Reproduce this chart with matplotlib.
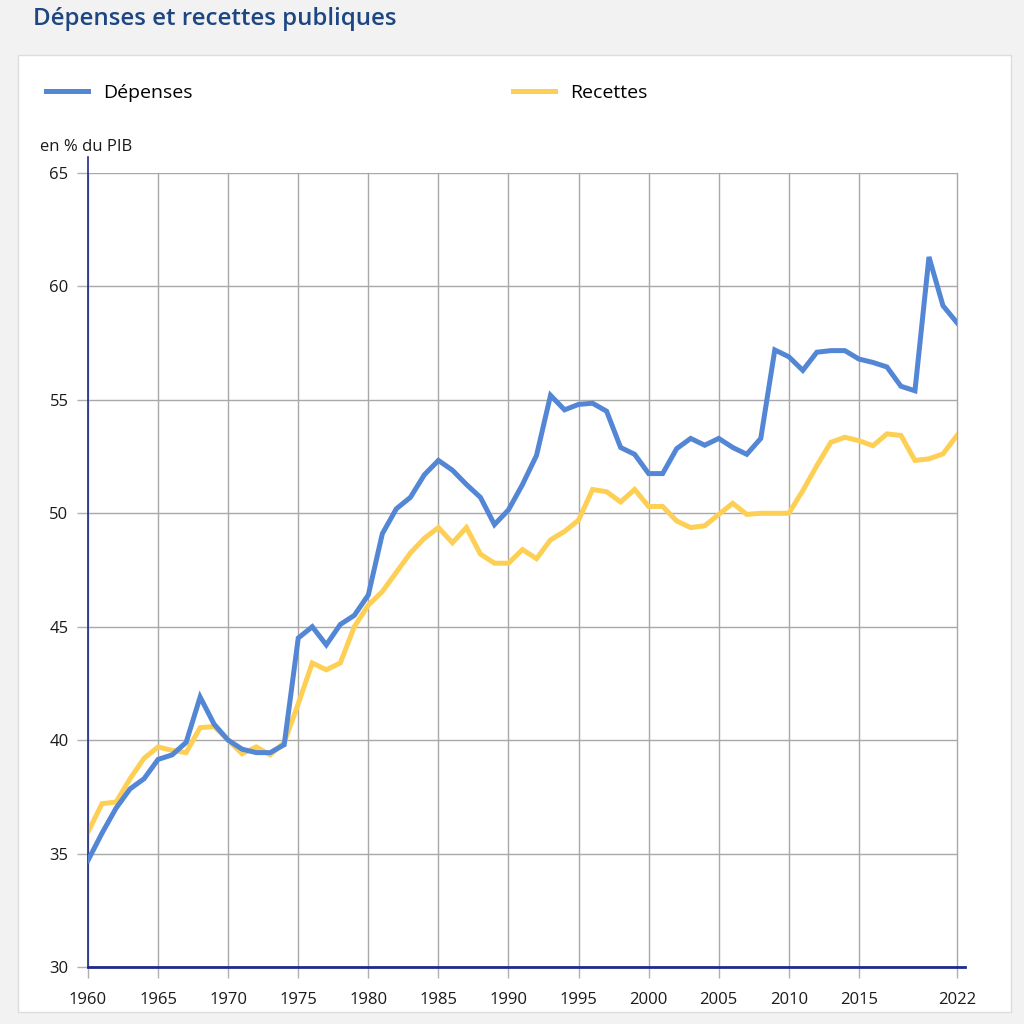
import matplotlib
matplotlib.use("Agg")
from matplotlib import pyplot as plt
from matplotlib.patches import Rectangle

plt.rcParams['font.family'] = ['Open Sans', 'DejaVu Sans']

annees = list(range(1960, 2023))
depenses = [34.7, 35.9, 37.0, 37.85, 38.3, 39.15, 39.35, 39.9, 41.9, 40.7,
            40.0, 39.6, 39.45, 39.45, 39.8, 44.5, 45.0, 44.2, 45.1, 45.5,
            46.4, 49.1, 50.2, 50.7, 51.7, 52.33, 51.9, 51.27, 50.7, 49.5,
            50.15, 51.27, 52.55, 55.2, 54.56, 54.8, 54.85, 54.5, 52.9, 52.6,
            51.75, 51.75, 52.85, 53.3, 53.0, 53.3, 52.9, 52.6, 53.3, 57.2,
            56.9, 56.3, 57.1, 57.17, 57.17, 56.8, 56.65, 56.45, 55.6, 55.4,
            61.3, 59.15, 58.4]
recettes = [35.95, 37.2, 37.27, 38.3, 39.2, 39.7, 39.55, 39.45, 40.55, 40.6,
            40.0, 39.4, 39.7, 39.35, 39.9, 41.6, 43.4, 43.1, 43.4, 45.0,
            45.95, 46.55, 47.4, 48.25, 48.9, 49.37, 48.7, 49.37, 48.2, 47.8,
            47.8, 48.4, 48.0, 48.83, 49.2, 49.7, 51.05, 50.95, 50.5, 51.05,
            50.3, 50.3, 49.66, 49.37, 49.45, 49.95, 50.44, 49.95, 50.0, 50.0,
            50.0, 51.0, 52.1, 53.13, 53.35, 53.2, 52.98, 53.5, 53.43, 52.33,
            52.4, 52.62, 53.43]
xticks = [1960, 1965, 1970, 1975, 1980, 1985, 1990, 1995, 2000, 2005, 2010, 2015, 2022]
yticks = [30, 35, 40, 45, 50, 55, 60, 65]

bleu = '#5387d6'
jaune = '#fdd055'
marine = '#1f2a8a'

fig = plt.figure(figsize=(10.24, 10.24), dpi=100, facecolor='#f2f2f2')

# panneau blanc (derriere tout)
fig.patches.append(Rectangle((18/1024, 0.012), 993/1024, 1 - 55/1024 - 0.012,
                             transform=fig.transFigure, facecolor='white',
                             edgecolor='#dddddd', lw=1, zorder=-10))

fig.text(33/1024, 1 - 19/1024, 'Dépenses et recettes publiques', fontsize=17.3,
         fontweight='semibold', color='#1e4682', va='center', ha='left')

ax = fig.add_axes([88/1024, 1 - 967/1024, 869/1024, 794/1024])
ax.set_facecolor('none')
ax.set_zorder(1)

l1, = ax.plot(annees, depenses, color=bleu, lw=3.6, solid_joinstyle='miter', zorder=3)
l2, = ax.plot(annees, recettes, color=jaune, lw=3.6, solid_joinstyle='miter', zorder=2)

ax.set_xlim(1960, 2022)
ax.set_ylim(30, 65)
ax.set_xticks(xticks)
ax.set_yticks(yticks)
ax.grid(True, color='#a8a8a8', lw=1)
for g in ax.get_xgridlines():
    g.set_clip_on(False)
ax.set_axisbelow(True)
ax.tick_params(axis='both', colors='#b0b0b0', labelcolor='#1a1a1a',
               labelsize=12, length=8, width=1)
ax.tick_params(axis='x', pad=10)
ax.tick_params(axis='y', pad=6)

for s in ['top', 'right', 'bottom']:
    ax.spines[s].set_visible(False)
ax.spines['left'].set_color(marine)
ax.spines['left'].set_linewidth(1.2)
ax.spines['left'].set_bounds(30, 65.7)
ax.plot([1960, 2022.6], [30, 30], color=marine, lw=2, clip_on=False, zorder=4)

ax.text(-0.055, 1.033, 'en % du PIB', transform=ax.transAxes, fontsize=12,
        color='#1a1a1a', ha='left', va='center')

fig.legend([l1, l2], ['Dépenses', 'Recettes'], loc='center left',
           bbox_to_anchor=(38/1024, 1 - 93/1024), ncol=2, frameon=False,
           fontsize=14, handlelength=2.16, handletextpad=0.77,
           columnspacing=16.5, borderaxespad=0)

fig.savefig('out.png', dpi=100, facecolor=fig.get_facecolor())
